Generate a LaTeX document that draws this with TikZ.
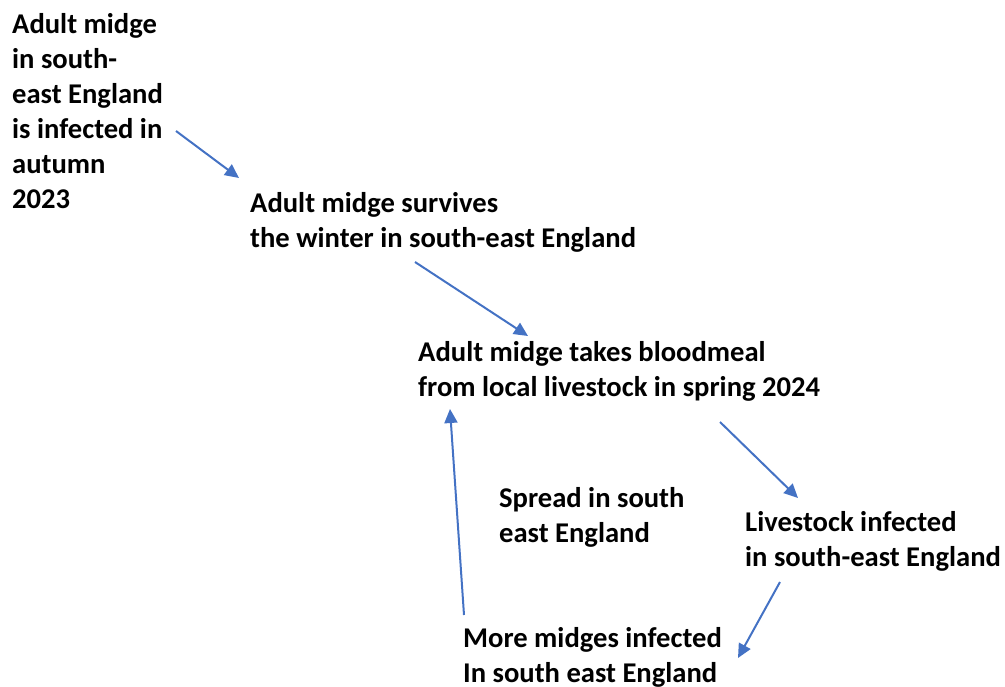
\documentclass[tikz,border=0pt]{standalone}
\usepackage{fontspec}
\setmainfont{Carlito}
\usetikzlibrary{arrows.meta}
\definecolor{arrowblue}{HTML}{4472C4}
\tikzset{
  lbl/.style={anchor=base west, inner sep=0pt, align=left, font=\fontsize{28.6}{35}\selectfont\bfseries},
  conn/.style={draw=arrowblue, line width=2pt, -{Triangle[length=14pt,width=13pt]}}
}
\begin{document}
\begin{tikzpicture}[x=1pt,y=-1pt]
\useasboundingbox (0,0) rectangle (1005,687);
\node[lbl] (a) at (12,209) {Adult midge\\in south-\\east England\\is infected in\\autumn\\2023};
\node[lbl] (b) at (250,248) {Adult midge survives\\the winter in south-east England};
\node[lbl] (c) at (418,396) {Adult midge takes bloodmeal\\from local livestock in spring 2024};
\node[lbl] (d) at (499,542) {Spread in south\\east England};
\node[lbl] (e) at (745,566) {Livestock infected\\in south-east England};
\node[lbl] (f) at (463,682) {More midges infected\\In south east England};
\coordinate (a1) at (176,131); \coordinate (a2) at (239,178);
\coordinate (b1) at (415,262); \coordinate (b2) at (528,336);
\coordinate (c1) at (720,422); \coordinate (c2) at (798,498);
\coordinate (e1) at (780,582); \coordinate (e2) at (738,658);
\coordinate (f1) at (464,615); \coordinate (f2) at (450,409);
\draw[conn] (a1) -- (a2);
\draw[conn] (b1) -- (b2);
\draw[conn] (c1) -- (c2);
\draw[conn] (e1) -- (e2);
\draw[conn] (f1) -- (f2);
\end{tikzpicture}
\end{document}
